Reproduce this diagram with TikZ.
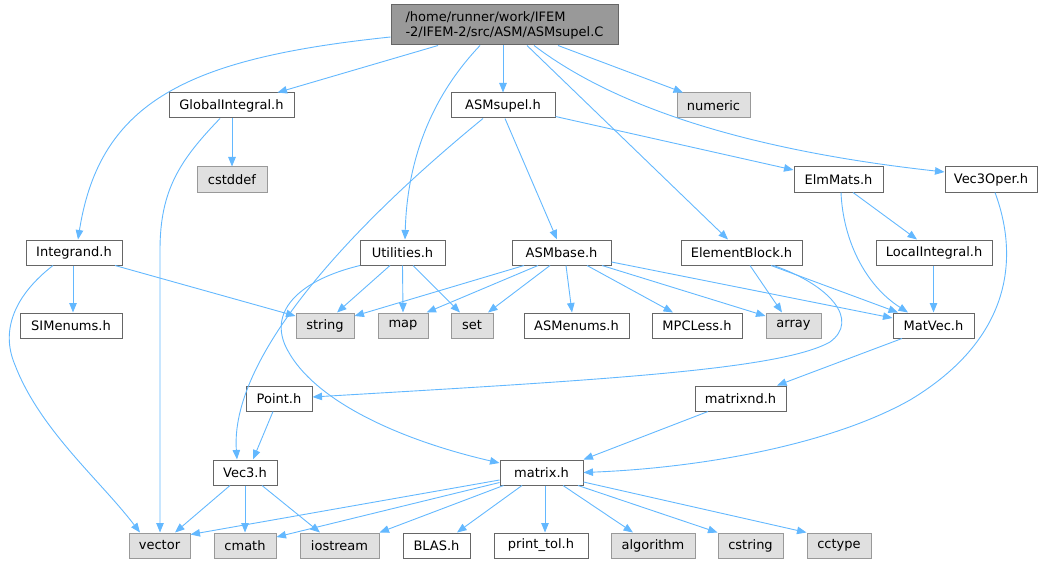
\documentclass[tikz,border=0pt]{standalone}
\usepackage{fontspec}
\setmainfont{DejaVu Sans}
\usetikzlibrary{arrows.meta}
\definecolor{edgec}{HTML}{63B8FF}
\definecolor{bordw}{HTML}{666666}
\definecolor{bordg}{HTML}{999999}
\definecolor{fillg}{HTML}{E0E0E0}
\definecolor{fillr}{HTML}{999999}
\tikzset{
  wbox/.style={draw=bordw, fill=white, line width=1pt, inner sep=0pt, minimum height=25pt, font=\fontsize{13}{15}\selectfont},
  gbox/.style={draw=bordg, fill=fillg, line width=1pt, inner sep=0pt, minimum height=25pt, font=\fontsize{13}{15}\selectfont},
  rbox/.style={draw=bordw, fill=fillr, line width=1pt, inner sep=0pt, minimum height=40pt, align=left, font=\fontsize{13}{15}\selectfont},
  edge/.style={draw=edgec, line width=0.9pt, -{Triangle[length=9.5pt,width=7.5pt]}},
}
\begin{document}
\begin{tikzpicture}[x=1pt,y=-1pt]
\useasboundingbox (0,0) rectangle (1056,564);
% nodes
\node[rbox, minimum width=227pt] (root) at (504.5,25) {/home/runner/work/IFEM\\-2/IFEM-2/src/ASM/ASMsupel.C};
\node[wbox, minimum width=125pt] (glob) at (231.5,105.5) {GlobalIntegral.h};
\node[wbox, minimum width=104pt] (asmsupel) at (503,105.5) {ASMsupel.h};
\node[gbox, minimum width=73pt] (numeric) at (713.5,105.5) {numeric};
\node[gbox, minimum width=70pt] (cstddef) at (232,179.5) {cstddef};
\node[wbox, minimum width=89pt] (elmmats) at (838.5,179.5) {ElmMats.h};
\node[wbox, minimum width=92pt] (vec3oper) at (991,179.5) {Vec3Oper.h};
\node[wbox, minimum width=96pt] (integrand) at (74,252.5) {Integrand.h};
\node[wbox, minimum width=85pt] (utilities) at (402.5,252.5) {Utilities.h};
\node[wbox, minimum width=99pt] (asmbase) at (561.5,252.5) {ASMbase.h};
\node[wbox, minimum width=121pt] (elementblock) at (741.5,252.5) {ElementBlock.h};
\node[wbox, minimum width=116pt] (localintegral) at (934,252.5) {LocalIntegral.h};
\node[wbox, minimum width=102pt] (simenums) at (71,325.5) {SIMenums.h};
\node[gbox, minimum width=58pt] (string) at (325,325.5) {string};
\node[gbox, minimum width=50pt] (map) at (403,325.5) {map};
\node[gbox, minimum width=42pt] (set) at (472,325.5) {set};
\node[wbox, minimum width=105pt] (asmenums) at (576.5,325.5) {ASMenums.h};
\node[wbox, minimum width=90pt] (mpcless) at (697,325.5) {MPCLess.h};
\node[gbox, minimum width=55pt] (array) at (793.5,325.5) {array};
\node[wbox, minimum width=81pt] (matvec) at (933.5,325.5) {MatVec.h};
\node[wbox, minimum width=66pt] (point) at (279,398.5) {Point.h};
\node[wbox, minimum width=91pt] (matrixnd) at (740.5,398.5) {matrixnd.h};
\node[wbox, minimum width=64pt] (vec3) at (245,472.5) {Vec3.h};
\node[wbox, minimum width=83pt] (matrix) at (541.5,472.5) {matrix.h};
\node[gbox, minimum width=61pt] (vector) at (159.5,545.5) {vector};
\node[gbox, minimum width=62pt] (cmath) at (245,545.5) {cmath};
\node[gbox, minimum width=79pt] (iostream) at (339.5,545.5) {iostream};
\node[wbox, minimum width=67pt] (blas) at (436.5,545.5) {BLAS.h};
\node[wbox, minimum width=94pt] (printtol) at (541,545.5) {print\_tol.h};
\node[gbox, minimum width=84pt] (algorithm) at (653,545.5) {algorithm};
\node[gbox, minimum width=65pt] (cstring) at (750.5,545.5) {cstring};
\node[gbox, minimum width=64pt] (cctype) at (839,545.5) {cctype};
% edges from root
\draw[edge] ([xshift=-66.5pt]root.south) -- ([xshift=46pt]glob.north);
\draw[edge] ([yshift=-12pt]root.west) .. controls (190,58) and (100,100) .. ([xshift=4pt]integrand.north);
\draw[edge] ([xshift=-1.5pt]root.south) -- (asmsupel.north);
\draw[edge] ([xshift=-24.5pt]root.south) .. controls (455,72) and (408,130) .. ([xshift=2.5pt]utilities.north);
\draw[edge] ([xshift=22.5pt]root.south) -- ([xshift=-13.5pt]elementblock.north);
\draw[edge] ([xshift=29.5pt]root.south) .. controls (590,88) and (700,145) .. ([yshift=7.5pt]vec3oper.west);
\draw[edge] ([xshift=53.5pt]root.south) -- ([xshift=-30.5pt]numeric.north);
% GlobalIntegral
\draw[edge] ([xshift=0.5pt]glob.south) -- (cstddef.north);
\draw[edge] ([xshift=-11.5pt]glob.south) .. controls (180,160) and (160,190) .. (160,250) -- ([xshift=0.5pt]vector.north);
% ASMsupel
\draw[edge] ([xshift=-20pt]asmsupel.south) .. controls (343,233) and (230,360) .. ([xshift=-8pt]vec3.north);
\draw[edge] ([xshift=2pt]asmsupel.south) -- ([xshift=-4.5pt]asmbase.north);
\draw[edge] ([yshift=-11pt]asmsupel.east) -- ([yshift=9.5pt]elmmats.west);
% ElmMats
\draw[edge] ([xshift=14.5pt]elmmats.south) -- ([xshift=-17pt]localintegral.north);
\draw[edge] ([xshift=2.5pt]elmmats.south) .. controls (843,240) and (865,285) .. ([xshift=-25.5pt]matvec.north);
% Vec3Oper
\draw[edge] ([xshift=4pt]vec3oper.south) .. controls (1020,260) and (1010,340) .. (910,400) .. controls (830,445) and (700,468) .. (matrix.east);
% Integrand
\draw[edge] ([xshift=-1pt]integrand.south) -- ([xshift=2pt]simenums.north);
\draw[edge] ([xshift=41pt]integrand.south) -- ([yshift=9.5pt]string.west);
\draw[edge] ([xshift=-21pt]integrand.south) .. controls (15,295) and (0,330) .. (15,365) .. controls (40,430) and (100,480) .. ([xshift=-19.5pt]vector.north);
% Utilities
\draw[edge] ([xshift=-12.5pt]utilities.south) -- ([xshift=12pt]string.north);
\draw[edge] (utilities.south) -- (map.north);
\draw[edge] ([xshift=10.5pt]utilities.south) -- ([xshift=-12pt]set.north);
\draw[edge] ([xshift=-42.5pt]utilities.south) .. controls (300,280) and (270,310) .. (285,345) .. controls (310,400) and (400,440) .. ([yshift=9.5pt]matrix.west);
% ASMbase
\draw[edge] ([xshift=-37.5pt]asmbase.south) -- ([yshift=9.5pt]string.east);
\draw[edge] ([xshift=-23.5pt]asmbase.south) -- ([xshift=-2pt]map.north east);
\draw[edge] ([xshift=-11.5pt]asmbase.south) -- ([xshift=16pt]set.north);
\draw[edge] ([xshift=4.5pt]asmbase.south) -- ([xshift=-4.5pt]asmenums.north);
\draw[edge] ([xshift=25.5pt]asmbase.south) -- ([xshift=-24pt]mpcless.north);
\draw[edge] ([xshift=40.5pt]asmbase.south) -- ([yshift=9.5pt]array.west);
\draw[edge] ([yshift=-9.5pt]asmbase.east) -- ([yshift=7.5pt]matvec.west);
% ElementBlock
\draw[edge] ([xshift=8.5pt]elementblock.south) -- ([xshift=-11.5pt]array.north);
\draw[edge] ([xshift=29.5pt]elementblock.south) -- ([xshift=-35.5pt]matvec.north);
\draw[edge] ([xshift=32pt]elementblock.south) .. controls (830,285) and (860,320) .. (830,342) .. controls (780,370) and (600,380) .. ([yshift=1.5pt]point.east);
% LocalIntegral, MatVec, matrixnd
\draw[edge] ([xshift=-0.5pt]localintegral.south) -- (matvec.north);
\draw[edge] ([xshift=-31.5pt]matvec.south) -- ([xshift=36.5pt]matrixnd.north);
\draw[edge] ([xshift=-32.5pt]matrixnd.south) -- (matrix.north east);
% Point, Vec3
\draw[edge] ([xshift=-6pt]point.south) -- ([xshift=8pt]vec3.north);
\draw[edge] ([xshift=-15pt]vec3.south) -- ([xshift=15.5pt]vector.north);
\draw[edge] (vec3.south) -- (cmath.north);
\draw[edge] ([xshift=17pt]vec3.south) -- ([xshift=-19.5pt]iostream.north);
% matrix
\draw[edge] ([yshift=-7.5pt]matrix.west) -- ([yshift=-2pt]vector.north east);
\draw[edge] ([yshift=-10pt]matrix.west) -- ([yshift=8.5pt]cmath.east);
\draw[edge] ([xshift=4pt]matrix.south west) -- (iostream.north east);
\draw[edge] ([xshift=-19.5pt]matrix.south) -- ([xshift=20.5pt]blas.north);
\draw[edge] ([xshift=3.5pt]matrix.south) -- ([xshift=4pt]printtol.north);
\draw[edge] ([xshift=21.5pt]matrix.south) -- ([xshift=-20pt]algorithm.north);
\draw[edge] ([xshift=36.5pt]matrix.south) -- (cstring.north west);
\draw[edge] ([yshift=-9.5pt]matrix.east) -- (cctype.north west);
\end{tikzpicture}
\end{document}
